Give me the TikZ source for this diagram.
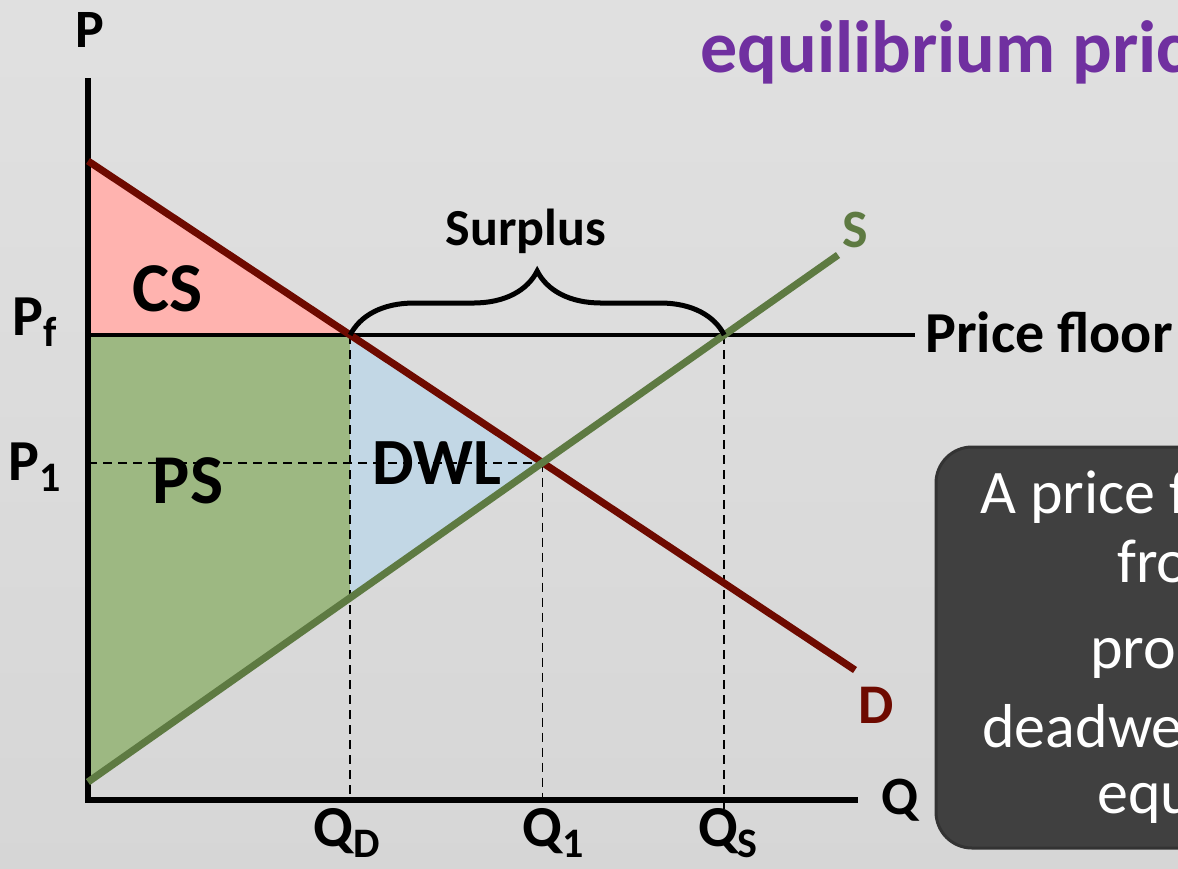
\documentclass[tikz,border=0pt]{standalone}
\usepackage{fontspec}
\setmainfont{Carlito}
\usetikzlibrary{calc,decorations.pathreplacing}

\definecolor{demandred}{HTML}{6E0A00}
\definecolor{supplygreen}{HTML}{5E7A42}
\definecolor{csfill}{HTML}{FFB3AF}
\definecolor{psfill}{HTML}{9DB882}
\definecolor{dwlfill}{HTML}{C2D7E5}
\definecolor{titlepurple}{HTML}{7030A0}
\definecolor{boxgrey}{HTML}{404040}

\newcommand{\lowsub}[1]{\raisebox{-0.2em}{\fontsize{21}{21}\selectfont #1}}

\begin{document}
\begin{tikzpicture}[x=0.5pt,y=-0.5pt,
  axis/.style={line width=2.6pt,line join=miter},
  curve/.style={line width=3.6pt},
  guide/.style={line width=0.9pt,dash pattern=on 4.5pt off 3pt},
  lbl/.style={font=\fontsize{29}{29}\selectfont\bfseries,inner sep=0pt},
  area/.style={font=\fontsize{35}{35}\selectfont\bfseries,inner sep=0pt},
  boxtext/.style={font=\fontsize{31}{31}\selectfont,text=white,inner sep=0pt,anchor=base west}]
\useasboundingbox (0,0) rectangle (1178,868);
\shade[top color=black!12,middle color=black!8,bottom color=black!16] (0,0) rectangle (1178,868);
\clip (0,0) rectangle (1178,868);

% axes and curve end points
\coordinate (o) at (88,800);
\coordinate (ytop) at (88,78);
\coordinate (xend) at (858,800);
\coordinate (d1) at (88,161);
\coordinate (d2) at (855,670);
\coordinate (s1) at (88,782);
\coordinate (s2) at (838,255);
\coordinate (f1) at (88,335);
\coordinate (f2) at (915,335);
\coordinate (eq) at (intersection of d1--d2 and s1--s2);
\coordinate (qd) at (intersection of d1--d2 and f1--f2);
\coordinate (qs) at (intersection of s1--s2 and f1--f2);
\coordinate (qdfoot) at (qd |- o);
\coordinate (qdsup) at (intersection of s1--s2 and qd--qdfoot);

% surplus areas
\fill[csfill] (d1) -- (qd) -- (f1) -- cycle;
\fill[psfill] (f1) -- (qd) -- (qdsup) -- (s1) -- cycle;
\fill[dwlfill] (qd) -- (eq) -- (qdsup) -- cycle;

% guides
\draw[guide] (qd) -- (qdfoot);
\draw[guide] (eq) -- (eq |- o);
\draw[guide] (qs) -- ($(qs |- o)+(0,12)$);
\draw[guide] (f1 |- eq) -- (eq);

\draw[axis] (ytop) -- (o) -- (xend);
\draw[line width=2.2pt] (f1) -- (f2);
\draw[curve,demandred] (d1) -- (d2);
\draw[curve,supplygreen] (s1) -- (s2);
\draw[line width=2.5pt,decorate,decoration={brace,amplitude=32pt}] (qd) -- (qs);

% labels
\node[lbl,font=\fontsize{27}{27}\selectfont\bfseries] (plabel) at (90,30) {P};
\node[lbl,font=\fontsize{27}{27}\selectfont\bfseries] (qlabel) at (900,800) {Q};
\node[lbl,anchor=base] (pf) at (35,335) {P\lowsub{f}};
\node[lbl,anchor=base] (p1) at (35,480) {P\lowsub{1}};
\node[lbl,anchor=base] (qdlabel) at (347,846) {Q\lowsub{D}};
\node[lbl,anchor=base] (q1label) at (553,846) {Q\lowsub{1}};
\node[lbl,anchor=base] (qslabel) at (728,846) {Q\lowsub{S}};
\node[area] (cs) at (168,289) {CS};
\node[area] (ps) at (188,481) {PS};
\node[area,font=\fontsize{33}{33}\selectfont\bfseries] (dwl) at (437,463) {DWL};
\node[lbl,font=\fontsize{26}{26}\selectfont\bfseries,anchor=base] (surplus) at (526,245) {Surplus};
\node[lbl,font=\fontsize{27}{27}\selectfont\bfseries,text=supplygreen] (slabel) at (855,230) {S};
\node[lbl,font=\fontsize{28}{28}\selectfont\bfseries,text=demandred] (dlabel) at (876,705) {D};
\node[lbl,anchor=base west] (floor) at (925,352) {Price floor};

% note box
\draw[fill=boxgrey,draw=black!80,line width=1.5pt,rounded corners=18pt] (936,447) rectangle (1300,848);
\node[boxtext] (n1) at (980,513) {A price f};
\node[boxtext] (n2) at (1117,582) {fro};
\node[boxtext] (n3) at (1090,668) {pro};
\node[boxtext] (n4) at (982,747) {deadwe};
\node[boxtext] (n5) at (1097,813) {equ};

\node[font=\fontsize{37}{37}\selectfont\bfseries,text=titlepurple,inner sep=0pt,anchor=base west] (title) at (700,72) {equilibrium pric};
\end{tikzpicture}
\end{document}
